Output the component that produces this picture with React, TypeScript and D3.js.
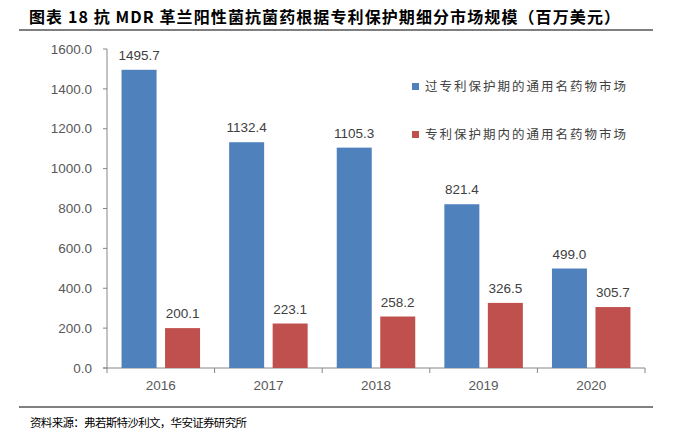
import React from "react";
import * as d3 from "d3";

const years = ["2016", "2017", "2018", "2019", "2020"];
const expired = [1495.7, 1132.4, 1105.3, 821.4, 499.0];
const protectedVals = [200.1, 223.1, 258.2, 326.5, 305.7];
const yTicks = [0, 200, 400, 600, 800, 1000, 1200, 1400, 1600];
const seriesNames = ["过专利保护期的通用名药物市场", "专利保护期内的通用名药物市场"];
const colors = ["#4F81BD", "#C0504D"];
const title = "图表 18 抗 MDR 革兰阳性菌抗菌药根据专利保护期细分市场规模（百万美元）";
const source = "资料来源：弗若斯特沙利文，华安证券研究所";

export default function App() {
  const W = 673, H = 435;
  const x0 = 107, x1 = 645, yTop = 49, yBot = 368;
  const x = d3.scaleBand<string>().domain(years).range([x0, x1]);
  const y = d3.scaleLinear().domain([0, 1600]).range([yBot, yTop]);
  const bw = 35;
  const gap = 8.5;
  const pad = (x.bandwidth() - 2 * bw - gap) / 2;
  const series = [expired, protectedVals];
  const num = "'Liberation Sans', Arial, sans-serif";
  const cjk = "'Noto Sans CJK SC', sans-serif";
  return (
    <svg width={W} height={H} style={{ position: "absolute", left: 0, top: 0 }}>
      <rect width={W} height={H} fill="#fff" />
      <text x={29} y={23} fontFamily={cjk} fontWeight="bold" fontSize={16} fill="#000" textLength={591} lengthAdjust="spacing">{title}</text>
      <line x1={19} x2={653} y1={30} y2={30} stroke="#000" strokeWidth={1.2} />
      {/* y axis */}
      <line x1={x0} x2={x0} y1={yTop} y2={yBot} stroke="#868686" />
      {yTicks.map((t) => (
        <g key={t}>
          <line x1={x0 - 4} x2={x0} y1={y(t)} y2={y(t)} stroke="#868686" />
          <text x={92} y={y(t)} dy="0.35em" textAnchor="end" fontFamily={num} fontSize={13.5} fill="#595959">{t.toFixed(1)}</text>
        </g>
      ))}
      {/* x axis */}
      <line x1={x0 - 4} x2={x1} y1={yBot} y2={yBot} stroke="#868686" />
      {[...years.map((c) => x(c)!), x1].map((v, i) => (
        <line key={i} x1={v} x2={v} y1={yBot} y2={yBot + 5} stroke="#868686" />
      ))}
      {years.map((c) => (
        <text key={c} x={x(c)! + x.bandwidth() / 2} y={385} dy="0.35em" textAnchor="middle" fontFamily={num} fontSize={13.5} fill="#595959">{c}</text>
      ))}
      {series.map((vals, si) =>
        years.map((c, i) => {
          const bx = x(c)! + pad + si * (bw + gap);
          return (
            <g key={c + si}>
              <rect x={bx} y={y(vals[i])} width={bw} height={yBot - y(vals[i])} fill={colors[si]} />
              <text x={bx + bw / 2} y={y(vals[i]) - 10} textAnchor="middle" fontFamily={num} fontSize={13.5} fill="#404040">{vals[i].toFixed(1)}</text>
            </g>
          );
        })
      )}
      {seriesNames.map((n, i) => (
        <g key={n}>
          <rect x={412} y={[87, 135][i] - 4} width={7} height={7} fill={colors[i]} />
          <text x={425} y={[87, 135][i]} dy="0.35em" fontFamily={cjk} fontSize={12.5} fill="#404040" textLength={201} lengthAdjust="spacing">{n}</text>
        </g>
      ))}
      <line x1={19} x2={653} y1={407} y2={407} stroke="#000" strokeWidth={1} />
      <text x={30} y={423} dy="0.35em" fontFamily={cjk} fontSize={11.5} fill="#000" textLength={217} lengthAdjust="spacing">{source}</text>
    </svg>
  );
}
